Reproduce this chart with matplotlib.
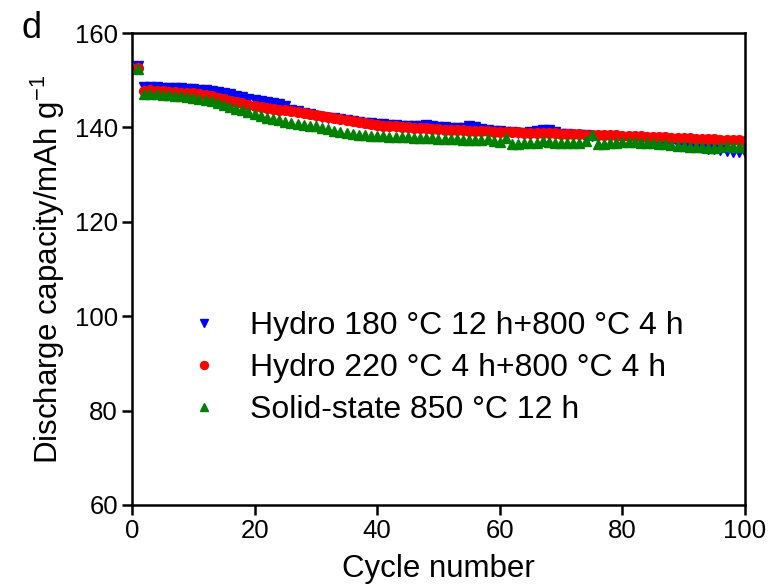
import matplotlib
matplotlib.use("Agg")
import matplotlib.pyplot as plt

plt.rcParams['font.family'] = ['Liberation Sans', 'DejaVu Sans']
plt.rcParams['mathtext.fontset'] = 'custom'
plt.rcParams['mathtext.rm'] = 'Liberation Sans'
plt.rcParams['mathtext.it'] = 'Liberation Sans'

cycles = list(range(1, 101))

hydro180 = [153.0,
    148.5, 148.6, 148.5, 148.4, 148.4, 148.3, 148.3, 148.2, 148.2,
    148.0, 147.9, 147.7, 147.5, 147.3, 147.0, 146.7, 146.4, 146.1, 145.8,
    145.5, 145.3, 145.1, 144.9, 144.6, 143.8, 143.4, 143.0, 142.8, 142.5,
    142.3, 142.1, 142.0, 141.8, 141.6, 141.4, 141.2, 141.0, 140.9, 140.8,
    140.7, 140.6, 140.5, 140.4, 140.3, 140.2, 140.3, 140.5, 140.3, 140.1,
    140.0, 139.9, 139.8, 139.9, 140.2, 140.1, 139.7, 139.5, 139.3, 139.2,
    139.1, 139.0, 138.9, 138.9, 139.0, 139.3, 139.5, 139.4, 139.0, 138.7,
    138.6, 138.5, 138.4, 138.3, 138.2, 138.1, 138.0, 137.9, 137.8, 137.6,
    137.5, 137.4, 137.3, 137.2, 137.0, 136.9, 136.8, 136.6, 136.5, 136.3,
    136.1, 135.9, 135.7, 135.5, 135.4, 135.2, 135.0, 134.9, 134.8, 134.7]

hydro220 = [152.5,
    147.8, 147.9, 147.8, 147.7, 147.6, 147.5, 147.4, 147.3, 147.2,
    147.0, 146.8, 146.6, 146.3, 146.0, 145.7, 145.4, 145.1, 144.8, 144.5,
    144.3, 144.1, 143.9, 143.8, 143.6, 143.4, 143.2, 143.0, 142.8, 142.6,
    142.4, 142.2, 142.0, 141.8, 141.6, 141.4, 141.2, 141.0, 140.8, 140.6,
    140.4, 140.3, 140.2, 140.1, 140.0, 139.9, 139.9, 139.8, 139.7, 139.6,
    139.5, 139.5, 139.4, 139.4, 139.3, 139.3, 139.2, 139.2, 139.1, 139.1,
    139.0, 139.0, 139.0, 138.9, 138.9, 138.9, 138.8, 138.8, 138.8, 138.7,
    138.7, 138.6, 138.6, 138.5, 138.5, 138.4, 138.4, 138.3, 138.3, 138.2,
    138.2, 138.1, 138.1, 138.0, 138.0, 137.9, 137.9, 137.8, 137.8, 137.7,
    137.7, 137.6, 137.6, 137.5, 137.5, 137.4, 137.4, 137.3, 137.3, 137.2]

solid850 = [152.3,
    147.0, 147.1, 147.0, 146.9, 146.8, 146.7, 146.6, 146.4, 146.2,
    146.0, 145.8, 145.5, 145.2, 144.8, 144.4, 144.0, 143.6, 143.2, 142.8,
    142.4, 142.1, 141.8, 141.5, 141.2, 141.0, 140.8, 140.6, 140.4, 140.2,
    139.9, 139.6, 139.3, 139.0, 138.8, 138.6, 138.4, 138.3, 138.2, 138.1,
    138.1, 138.0, 138.0, 137.9, 137.9, 137.8, 137.8, 137.7, 137.7, 137.6,
    137.6, 137.5, 137.5, 137.4, 137.4, 137.3, 137.3, 137.6, 137.2, 137.0,
    137.7, 136.5, 136.5, 136.6, 136.6, 136.8, 137.2, 137.0, 136.8, 136.7,
    136.6, 136.6, 136.8, 137.2, 138.5, 136.5, 136.5, 136.6, 136.8, 137.0,
    137.0, 136.9, 136.8, 136.7, 136.6, 136.5, 136.4, 136.2, 136.1, 136.0,
    135.9, 135.8, 135.8, 135.7, 135.7, 135.9, 136.0, 135.9, 135.8, 135.8]

labels = ["Hydro 180 \u00b0C 12 h+800 \u00b0C 4 h",
          "Hydro 220 \u00b0C 4 h+800 \u00b0C 4 h",
          "Solid-state 850 \u00b0C 12 h"]

fig = plt.figure(figsize=(7.72, 5.87), dpi=100)
ax = fig.add_axes([0.171, 0.1397, 0.794, 0.804])

ms = 7
ax.plot(cycles, hydro180, linestyle='none', marker='v', color='#0000ff', ms=ms, mec='#0000ff', label=labels[0])
ax.plot(cycles, hydro220, linestyle='none', marker='o', color='#ff0000', ms=ms, mec='#ff0000', label=labels[1])
ax.plot(cycles, solid850, linestyle='none', marker='^', color='#008000', ms=ms, mec='#008000', label=labels[2])

ax.set_xlim(0, 100)
ax.set_ylim(60, 160)
ax.set_xticks([0, 20, 40, 60, 80, 100])
ax.set_yticks([60, 80, 100, 120, 140, 160])
for s in ax.spines.values():
    s.set_linewidth(1.8)
ax.tick_params(direction='out', length=7, width=1.8, labelsize=18.5, pad=3)

ax.set_xlabel("Cycle number", fontsize=22.5, labelpad=8)
ax.set_ylabel("Discharge capacity/mAh g$^{-1}$", fontsize=22.5, labelpad=6)

leg = ax.legend(loc='center left', bbox_to_anchor=(0.07, 0.29), frameon=False,
                fontsize=23, markerscale=0.82, handletextpad=0.95,
                labelspacing=0.37, handlelength=1.0, borderaxespad=0)

fig.text(0.028, 0.935, "d", fontsize=26)

fig.savefig("out.png", dpi=100)
